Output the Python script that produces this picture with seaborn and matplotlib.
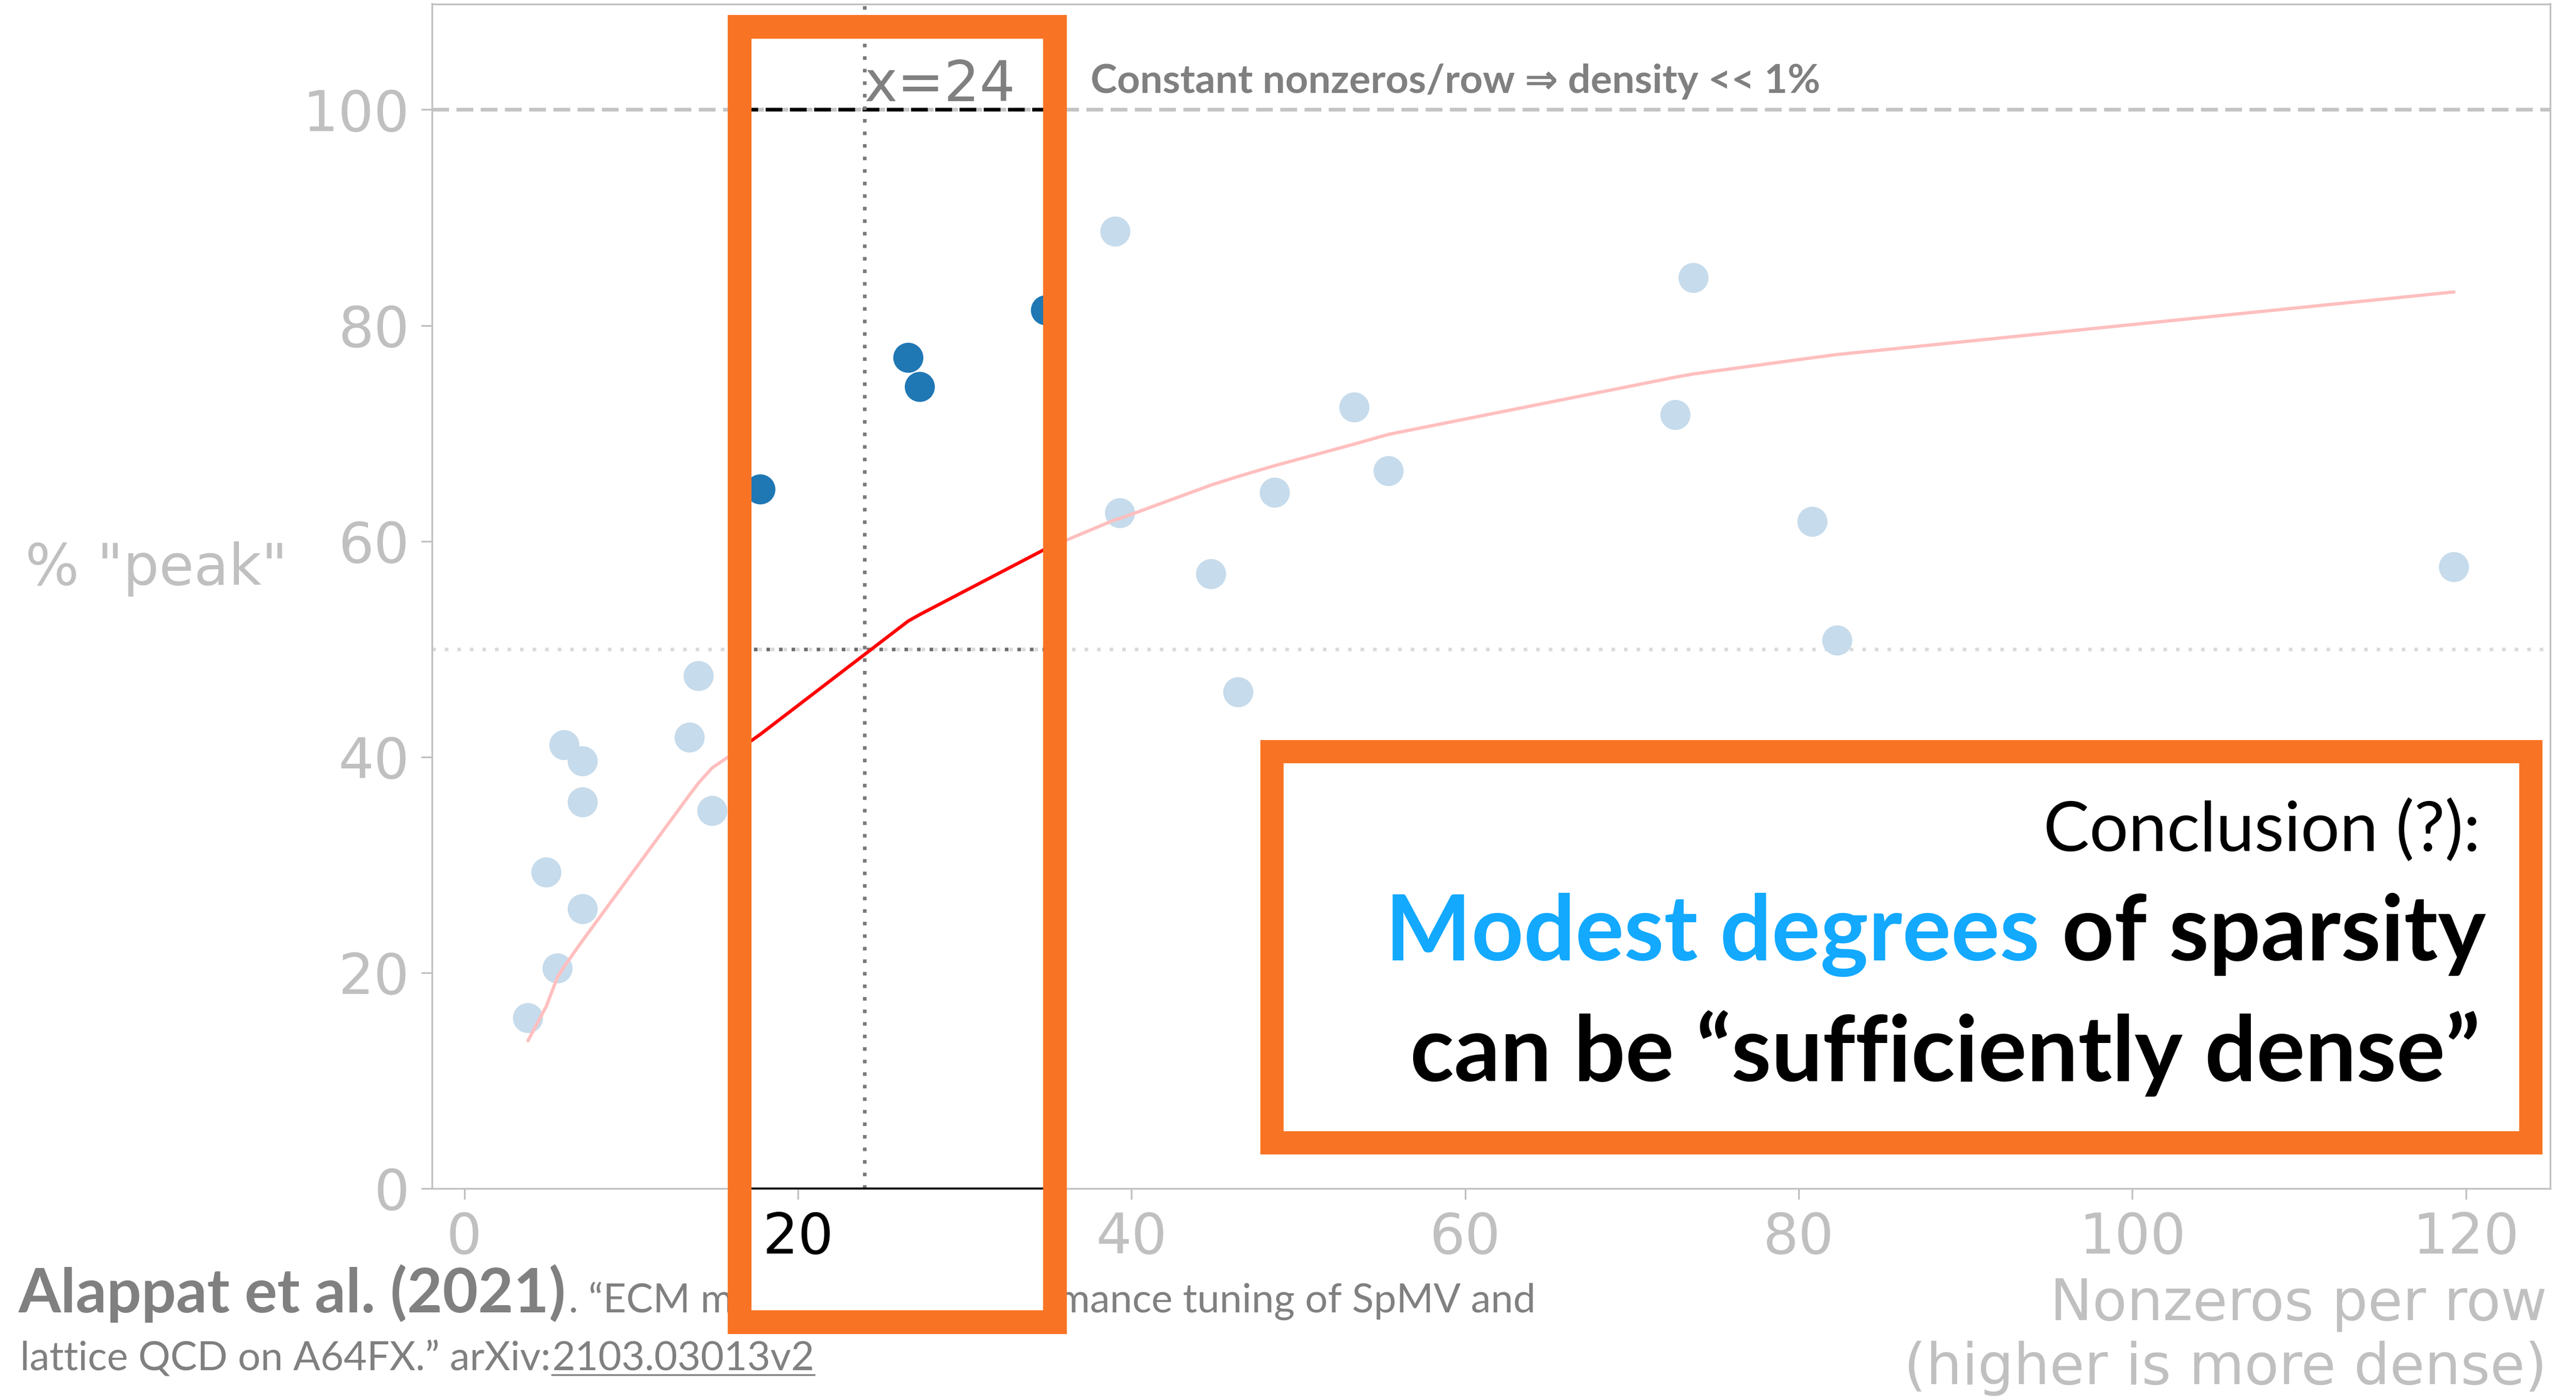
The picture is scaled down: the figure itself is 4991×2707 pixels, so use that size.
import numpy as np
import pandas as pd
import matplotlib
matplotlib.use("Agg")
import matplotlib.pyplot as plt
import seaborn as sns
from matplotlib.patches import Rectangle
from matplotlib.lines import Line2D

# ---------------- data ----------------
nnz_per_row = [3.82, 4.92, 5.59, 6.00, 7.10, 7.10, 7.10, 13.51, 14.05, 14.87,
               17.75, 26.62, 27.31, 34.87,
               39.03, 39.31, 44.77, 46.40, 48.59, 53.36, 55.41, 72.61, 73.69,
               80.82, 82.31, 119.28]
pct_peak = [15.8, 29.3, 20.4, 41.1, 39.6, 35.8, 25.9, 41.8, 47.5, 35.0,
            64.8, 77.0, 74.3, 81.4,
            88.7, 62.6, 56.95, 46.0, 64.5, 72.4, 66.5, 71.7, 84.4,
            61.8, 50.8, 57.6]

fit_x = [3.82, 4.92, 5.59, 6.00, 7.10, 13.51, 14.05, 14.87, 16.20, 17.75,
         26.62, 27.31, 34.87, 39.03, 39.31, 44.77, 46.40, 48.59, 53.36,
         55.41, 72.61, 73.69, 80.82, 82.31, 119.28]
fit_y = [13.7, 16.9, 19.6, 20.6, 23.0, 36.5, 37.6, 39.0, 40.4, 42.1,
         52.6, 53.2, 59.3, 62.0, 62.1, 65.2, 66.0, 67.0, 69.0,
         69.9, 75.2, 75.5, 77.0, 77.3, 83.1]

highlight_range = (16.6, 35.3)
threshold_x = 24
peak_level = 100
half_level = 50
x_ticks = [0, 20, 40, 60, 80, 100, 120]
y_ticks = [0, 20, 40, 60, 80, 100]

# ---------------- figure ----------------
W, H, DPI = 4991, 2707, 200
sns.set_style("white")
plt.rcParams["font.family"] = ["DejaVu Sans"]
SLIDE = ["Lato", "DejaVu Sans"]

fig = plt.figure(figsize=(W / DPI, H / DPI), dpi=DPI)
fig.patch.set_facecolor("white")

def fx(p):
    return p / W

def fy(p):
    return 1 - p / H

ax_l, ax_r, ax_t, ax_b = 836.5, 4941, 7.5, 2303
ax = fig.add_axes([fx(ax_l), fy(ax_b), (ax_r - ax_l) / W, (ax_b - ax_t) / H])

lo, hi = highlight_range
df = pd.DataFrame({"nnz": nnz_per_row, "peak": pct_peak})
df["hl"] = (df["nnz"] >= lo) & (df["nnz"] <= hi)

LIGHT = "#c6dbeb"
GRAY = "#c0c0c0"

# reference lines
dash_pat = (4.5, 2.0)
dot_pat = (1.0, 2.5)
ax.axhline(peak_level, color="#c4c4c4", lw=2.6, dashes=dash_pat, zorder=1)
ax.plot([lo, hi], [peak_level, peak_level], color="black", lw=2.6,
        dashes=dash_pat, zorder=1.5)
ax.axhline(half_level, color="#dadada", lw=2.5, dashes=dot_pat, zorder=1)
ax.plot([lo, hi], [half_level, half_level], color="#6e6e6e", lw=2.5,
        dashes=dot_pat, zorder=1.5)
ax.axvline(threshold_x, color="#7a7a7a", lw=2.5, dashes=dot_pat, zorder=1.5)

# points
sns.scatterplot(data=df, x="nnz", y="peak", hue="hl",
                palette={False: LIGHT, True: "#1f77b4"},
                s=440, linewidth=0, legend=False, ax=ax, zorder=2)

# fitted curve
sns.lineplot(x=fit_x, y=fit_y, color="#ffbfbf", lw=2.3, sort=False,
             estimator=None, ax=ax, zorder=3)
fx_arr = np.array(fit_x)
fy_arr = np.array(fit_y)
m = (fx_arr >= lo - 0.5) & (fx_arr <= hi)
sns.lineplot(x=fx_arr[m], y=fy_arr[m], color="#ff0000", lw=2.3, sort=False,
             estimator=None, ax=ax, zorder=3.5)

ax.set_xlim(-1.95, 125.05)
ax.set_ylim(0, 109.8)
ax.set_xticks(x_ticks)
ax.set_yticks(y_ticks)
ax.set_xlabel("")
ax.set_ylabel("")
for s in ax.spines.values():
    s.set_color(GRAY)
    s.set_linewidth(1.2)
ax.tick_params(bottom=True, left=True, direction="out", length=7.5, width=1.2,
               color=GRAY, labelcolor=GRAY, labelsize=39, pad=8)
# highlighted tick "20"
for tk, lab in zip(ax.xaxis.get_major_ticks(), x_ticks):
    if lo <= lab <= hi:
        tk.tick1line.set_color("black")
        tk.label1.set_color("black")
# black spine segment
ax.plot([lo, hi], [0, 0], color="black", lw=1.4, clip_on=False, zorder=5)

ax.text(threshold_x, 100.8, f"x={threshold_x}", color="#808080", fontsize=39,
        ha="left", va="baseline", zorder=4)

# axis labels
fig.text(fx(49), fy(1132.5), '% "peak"', color=GRAY, fontsize=39.5,
         ha="left", va="baseline")
fig.text(fx(4935), fy(2558), "Nonzeros per row", color=GRAY, fontsize=39.5,
         ha="right", va="baseline")
fig.text(fx(4935), fy(2682), "(higher is more dense)", color=GRAY,
         fontsize=39.5, ha="right", va="baseline")

renderer = fig.canvas.get_renderer()

def fit(t, target):
    bb = t.get_window_extent(renderer)
    t.set_fontsize(t.get_fontsize() * target / bb.width)
    return t

# annotation top
t = fig.text(fx(2113), fy(180), "Constant nonzeros/row \u21d2 density << 1%",
             color="#808080", fontsize=26, fontweight="bold", family=SLIDE,
             ha="left", va="baseline")
fit(t, 1411)

# footer citation
tb = fig.text(fx(36), fy(2543), "Alappat et al. (2021)", color="#808080",
              fontsize=40, fontweight="bold", family=SLIDE, ha="left",
              va="baseline")
fit(tb, 1061)
tr = fig.text(fx(1102), fy(2543),
              ". \u201cECM modeling and performance tuning of SpMV and",
              color="#808080", fontsize=25, family=SLIDE, ha="left",
              va="baseline")
fit(tr, 1872)
fs_reg = tr.get_fontsize()
t2a = fig.text(fx(39), fy(2655), "lattice QCD on A64FX.\u201d arXiv:",
               color="#808080", fontsize=fs_reg, family=SLIDE, ha="left",
               va="baseline")
bb = t2a.get_window_extent(renderer)
t2b = fig.text(bb.x1 / W + 2 / W, fy(2655), "2103.03013v2", color="#808080",
               fontsize=fs_reg, family=SLIDE, ha="left", va="baseline")
bb2 = t2b.get_window_extent(renderer)
fig.add_artist(Line2D([bb2.x0 / W, bb2.x1 / W], [fy(2664), fy(2664)],
                      color="#808080", lw=1.2, transform=fig.transFigure))

# white panel of the chart image that hides the citation inside box 1
fig.add_artist(Rectangle((fx(1432), fy(2562)), (2044 - 1432) / W,
                         (2562 - 2440) / H, fc="white", ec="none",
                         transform=fig.transFigure, zorder=4))

# conclusion box text
tc = fig.text(fx(4806), fy(1648), "Conclusion (?):", color="black",
              fontsize=46, family=SLIDE, ha="right", va="baseline", zorder=6)
fit(tc, 847)

probe = fig.text(0, 0, "Modest degrees of sparsity", fontsize=60,
                 fontweight="bold", family=SLIDE)
fit(probe, 2132)
fs_big = probe.get_fontsize()
probe.remove()
tb1 = fig.text(fx(4816), fy(1861), "of sparsity", color="black",
               fontsize=fs_big, fontweight="bold", family=SLIDE, ha="right",
               va="baseline", zorder=6)
fig.text(fx(2684), fy(1861), "Modest degrees", color="#12a9ff",
         fontsize=fs_big, fontweight="bold", family=SLIDE, ha="left",
         va="baseline", zorder=6)
t3 = fig.text(fx(4805), fy(2095), "can be \u201csufficiently dense\u201d",
              color="black", fontsize=fs_big, fontweight="bold", family=SLIDE,
              ha="right", va="baseline", zorder=6)
fit(t3, 2074)

# hand-drawn orange boxes
ORANGE = "#f87424"

def box(x0, y0, x1, y1, lw_px):
    r = Rectangle((fx(x0), fy(y1)), (x1 - x0) / W, (y1 - y0) / H, fill=False,
                  ec=ORANGE, lw=lw_px * 72 / DPI, joinstyle="miter",
                  transform=fig.transFigure, zorder=10)
    fig.add_artist(r)

box(1432.6, 52, 2043.6, 2562, 46)
box(2464, 1456, 4903, 2214, 45)

fig.savefig("out.png", dpi=DPI, facecolor="white")
